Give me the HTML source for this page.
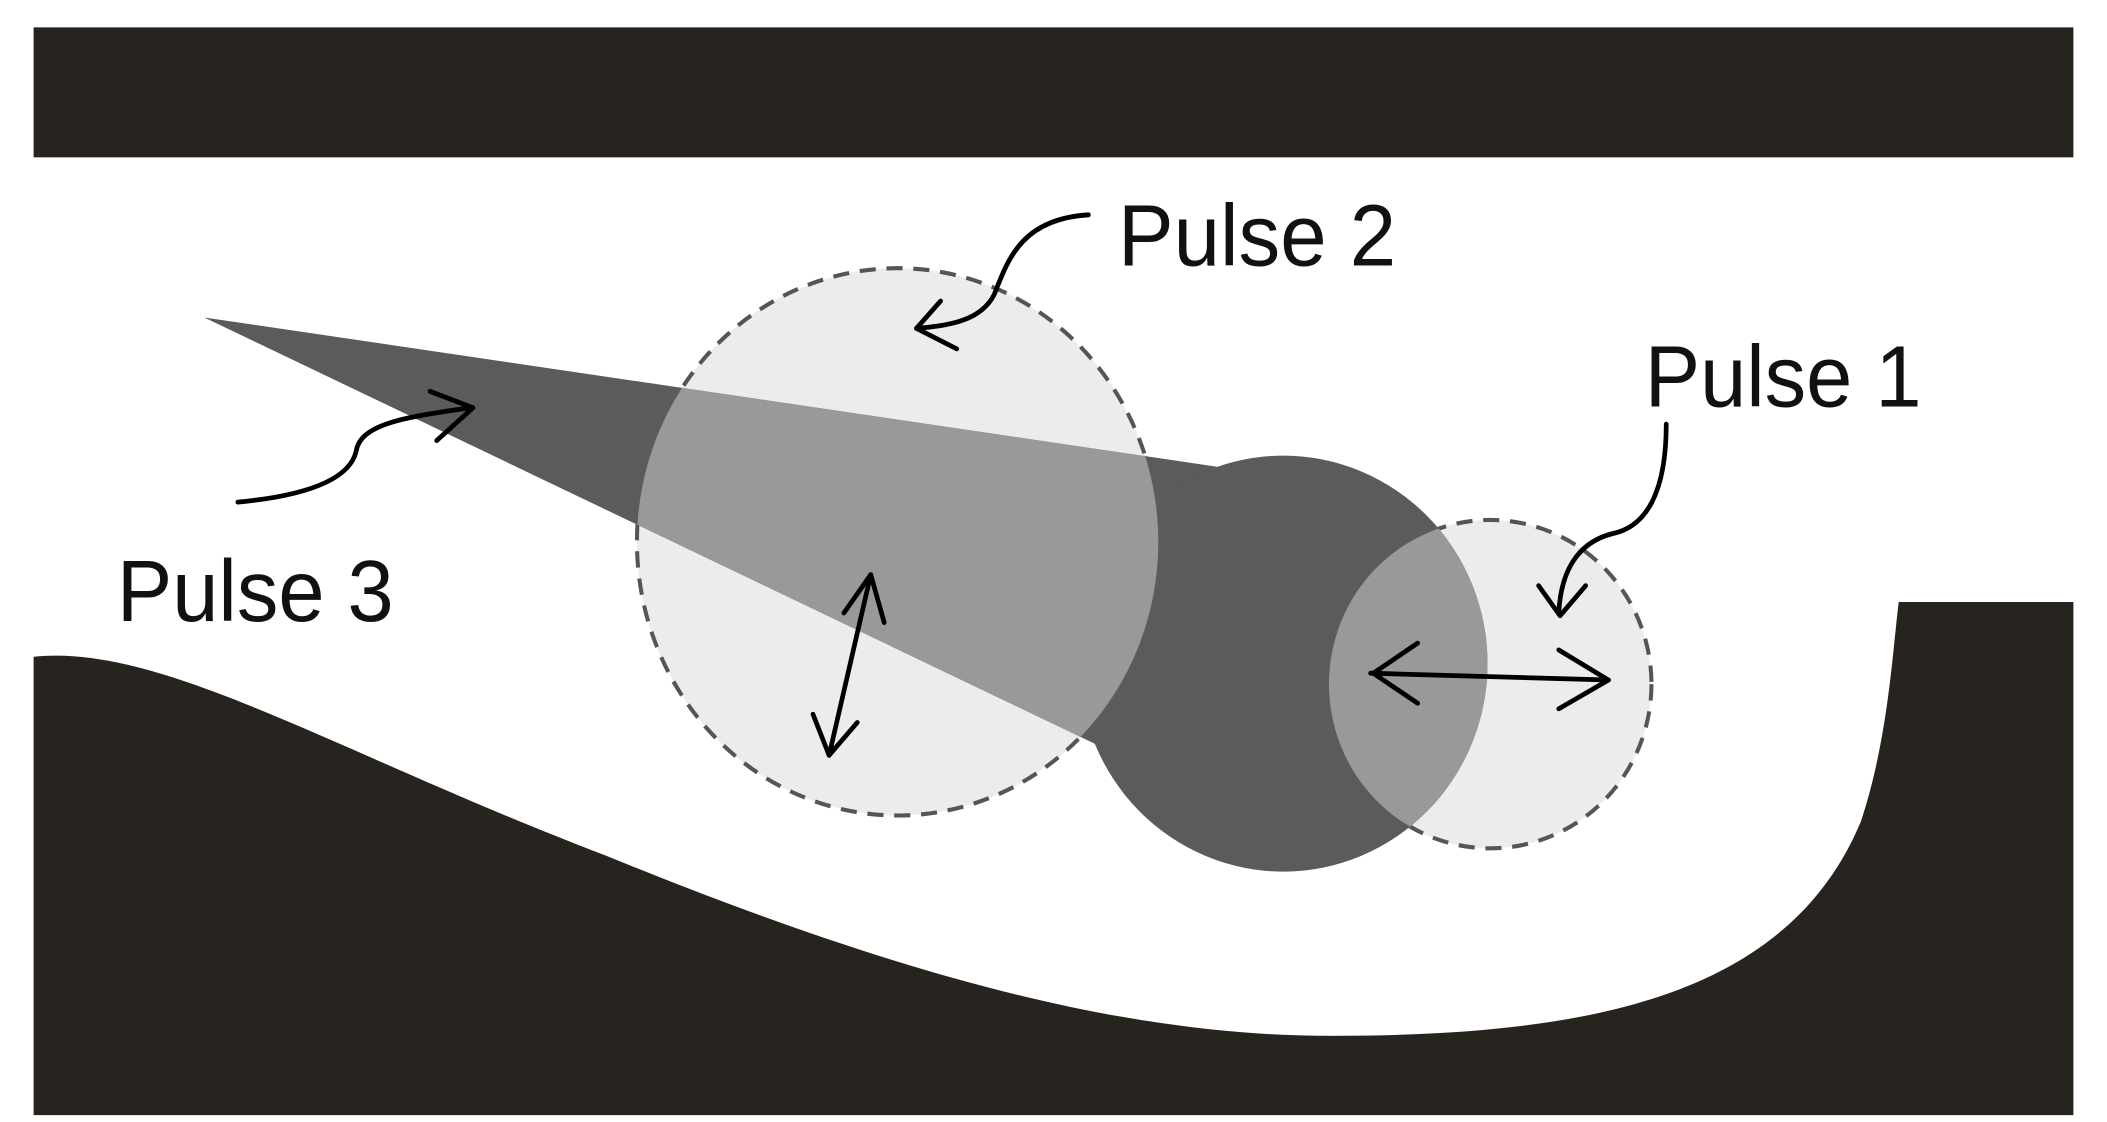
<!DOCTYPE html>
<html><head><meta charset="utf-8"><style>
html,body{margin:0;padding:0;background:#fff;}
svg{display:block;}
text{font-family:"Liberation Sans",sans-serif;fill:#111;}
</style></head><body>
<svg width="2107" height="1122" viewBox="0 0 1568 820" preserveAspectRatio="none" xmlns="http://www.w3.org/2000/svg">
<defs>
<clipPath id="dark">
<polygon points="152,232 912,342 820,546"/>
<circle cx="955" cy="485" r="152"/>
</clipPath>
<mask id="outside">
<rect width="1568" height="820" fill="#fff"/>
<polygon points="152,232 912,342 820,546" fill="#000"/>
<circle cx="955" cy="485" r="152" fill="#000"/>
</mask>
</defs>
<rect width="1568" height="820" fill="#fff"/>
<rect x="25" y="20" width="1518" height="95" fill="#27241f"/>
<path d="M25,480 C120,470 250,550 450,625 C650,705 820,755 980,757 C1180,758 1330,730 1385,600 C1405,540 1408,480 1413,440 L1543,440 L1543,815 L25,815 Z" fill="#27241f"/>
<ellipse cx="668" cy="396" rx="194" ry="200" fill="#ececec"/>
<circle cx="1109" cy="500" r="120" fill="#ececec"/>
<polygon points="152,232 912,342 820,546" fill="#5b5b5b"/>
<circle cx="955" cy="485" r="152" fill="#5b5b5b"/>
<g clip-path="url(#dark)">
<ellipse cx="668" cy="396" rx="194" ry="200" fill="#999"/>
<circle cx="1109" cy="500" r="120" fill="#999"/>
</g>
<g mask="url(#outside)" fill="none" stroke="#555" stroke-width="3" stroke-dasharray="12,8">
<ellipse cx="668" cy="396" rx="194" ry="200"/>
<circle cx="1109" cy="500" r="120"/>
</g>
<g fill="none" stroke="#000" stroke-width="3.5" stroke-linecap="round" stroke-linejoin="round">
<path d="M810,157 C760,160 750,190 740,215 C730,235 705,238 682,240"/>
<path d="M700,220 L682,240 L712,255"/>
<path d="M1240,310 C1240,360 1225,385 1200,390 C1180,395 1162,410 1160,448"/>
<path d="M1145,428 L1161,450 L1180,428"/>
<path d="M177,367 C230,362 260,350 265,330 C268,310 300,305 350,298"/>
<path d="M320,286 L352,298 L325,322"/>
<path d="M648,420 L617,552"/>
<path d="M628,448 L648,420 L658,455"/>
<path d="M605,522 L617,552 L638,528"/>
<path d="M1020,492 L1197,497"/>
<path d="M1055,470 L1022,492 L1055,514"/>
<path d="M1160,475 L1197,497 L1160,518"/>
</g>
<text x="832" y="194" font-size="64" textLength="207" lengthAdjust="spacingAndGlyphs">Pulse 2</text>
<text x="1224" y="297" font-size="64" textLength="206" lengthAdjust="spacingAndGlyphs">Pulse 1</text>
<text x="87" y="454" font-size="64" textLength="206" lengthAdjust="spacingAndGlyphs">Pulse 3</text>
</svg>
</body></html>
